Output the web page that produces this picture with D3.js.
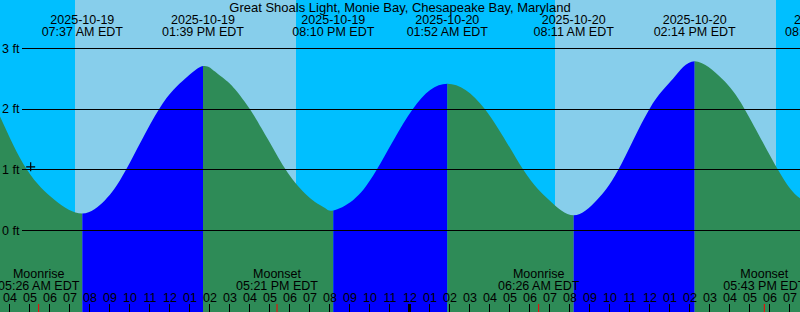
<!DOCTYPE html>
<html>
<head>
<meta charset="utf-8">
<script src="https://cdn.jsdelivr.net/npm/d3@7"></script>
<style>
  body { margin: 0; background: #00BFFF; }
  svg { display: block; }
  text { font-family: "Liberation Sans", Arial, sans-serif; font-size: 12.5px; fill: #000; }
  text.title { font-size: 13px; }
</style>
</head>
<body>
<div id="main"></div>
<script>
const ctx = {
    CHART_WIDTH: 800,
    CHART_HEIGHT: 312
};

const title = "Great Shoals Light, Monie Bay, Chesapeake Bay, Maryland";

// high / low tide events
const extremeTimes = ["2025-10-19 07:37", "2025-10-19 13:39", "2025-10-19 20:10",
                      "2025-10-20 01:52", "2025-10-20 08:11", "2025-10-20 14:14",
                      "2025-10-20 20:48"];
const extremeLevels = [0.28, 2.71, 0.33, 2.42, 0.25, 2.79, 0.30];
const extremeTypes = ["low", "high", "low", "high", "low", "high", "low"];

// tide level readings (ft) taken off the curve
const tideTimes = ["2025-10-19 03:30", "2025-10-19 04:51", "2025-10-19 06:15", "2025-10-19 07:37",
                   "2025-10-19 08:45", "2025-10-19 09:48", "2025-10-19 11:27", "2025-10-19 12:45",
                   "2025-10-19 13:39", "2025-10-19 14:15", "2025-10-19 14:45", "2025-10-19 15:15",
                   "2025-10-19 16:00", "2025-10-19 16:35", "2025-10-19 17:15", "2025-10-19 17:45",
                   "2025-10-19 18:15", "2025-10-19 18:45", "2025-10-19 19:15", "2025-10-19 19:45",
                   "2025-10-19 20:10",
                   "2025-10-19 21:09", "2025-10-19 22:20", "2025-10-20 00:08", "2025-10-20 01:52",
                   "2025-10-20 03:45", "2025-10-20 05:40", "2025-10-20 06:58", "2025-10-20 08:11",
                   "2025-10-20 09:20", "2025-10-20 10:25", "2025-10-20 11:58", "2025-10-20 13:09",
                   "2025-10-20 14:14", "2025-10-20 15:36", "2025-10-20 16:44", "2025-10-20 18:24",
                   "2025-10-20 19:30", "2025-10-20 20:48"];
const tideLevels = [1.88, 1.0, 0.5, 0.28,
                    0.5, 1.0, 2.0, 2.5,
                    2.71, 2.62, 2.49, 2.33,
                    2.0, 1.68, 1.30, 1.02,
                    0.79, 0.61, 0.47, 0.37,
                    0.33,
                    0.5, 1.0, 2.0, 2.42,
                    2.0, 1.0, 0.5, 0.25,
                    0.5, 1.0, 2.0, 2.5,
                    2.79, 2.5, 2.0, 1.0,
                    0.53, 0.30];

// daylight
const sunriseTimes = ["2025-10-19 07:15", "2025-10-20 07:15"];
const sunsetTimes = ["2025-10-19 18:18", "2025-10-20 18:18"];

// moon events
const moonTimes = ["2025-10-19 05:26", "2025-10-19 17:21", "2025-10-20 06:26", "2025-10-20 17:43"];
const moonTypes = ["Moonrise", "Moonset", "Moonrise", "Moonset"];

const levelTicks = [0, 1, 2, 3];
const hourRange = ["2025-10-19 04:00", "2025-10-20 19:00"];

const nowTime = "2025-10-19 05:02";
const nowLevel = 1.05;

const parse = d3.utcParse("%Y-%m-%d %H:%M");
const fmtDate = d3.utcFormat("%Y-%m-%d");
const fmtTime = d3.utcFormat("%I:%M %p EDT");
const fmtHour = d3.utcFormat("%I");

function createViz(){
    let svgEl = d3.select("#main").append("svg")
        .attr("width", ctx.CHART_WIDTH)
        .attr("height", ctx.CHART_HEIGHT);
    let g = svgEl.append("g").attr("id", "mainG");

    ctx.xScale = d3.scaleUtc().domain(hourRange.map(parse)).range([10, 790]);
    ctx.yScale = d3.scaleLinear().domain([0, 3]).range([230.5, 48.5]);
    let x = ctx.xScale, y = ctx.yScale;

    // night background then daylight bands
    g.append("rect").attr("x", 0).attr("y", 0)
     .attr("width", ctx.CHART_WIDTH).attr("height", ctx.CHART_HEIGHT)
     .attr("fill", "#00BFFF");
    g.selectAll("rect.day").data(d3.zip(sunriseTimes, sunsetTimes)).join("rect")
     .attr("class", "day")
     .attr("x", d => x(parse(d[0])))
     .attr("y", 0)
     .attr("width", d => x(parse(d[1])) - x(parse(d[0])))
     .attr("height", ctx.CHART_HEIGHT)
     .attr("fill", "#87CEEB");

    // tide area as clip, coloured by rising / falling
    let tide = tideTimes.map((t, i) => ({t: parse(t), v: tideLevels[i]}));
    let area = d3.area()
        .x(d => x(d.t))
        .y0(ctx.CHART_HEIGHT)
        .y1(d => y(d.v))
        .curve(d3.curveNatural);
    svgEl.append("defs").append("clipPath").attr("id", "tideClip")
        .append("path").attr("d", area(tide));

    let ext = extremeTimes.map((t, i) => ({t: parse(t), v: extremeLevels[i], type: extremeTypes[i]}));
    let segs = ext.map((e, i) => ({
        x0: i === 0 ? -10 : x(ext[i-1].t),
        x1: x(e.t),
        rising: e.type === "high"
    }));
    segs.push({x0: x(ext[ext.length-1].t), x1: ctx.CHART_WIDTH + 100,
               rising: ext[ext.length-1].type === "low"});

    g.append("g").attr("clip-path", "url(#tideClip)")
     .selectAll("rect").data(segs).join("rect")
     .attr("x", d => d.x0)
     .attr("y", 0)
     .attr("width", d => d.x1 - d.x0)
     .attr("height", ctx.CHART_HEIGHT)
     .attr("fill", d => d.rising ? "#0000FF" : "#2E8B57");

    // level lines
    g.selectAll("line.level").data(levelTicks).join("line")
     .attr("class", "level")
     .attr("x1", 22).attr("x2", ctx.CHART_WIDTH)
     .attr("y1", d => y(d)).attr("y2", d => y(d))
     .attr("stroke", "#000").attr("stroke-width", 1)
     .style("shape-rendering", "crispEdges");
    g.selectAll("text.level").data(levelTicks).join("text")
     .attr("class", "level")
     .attr("x", 2).attr("y", d => y(d) + 4)
     .text(d => d + " ft");

    // title + tide event labels
    g.append("text")
     .attr("class", "title")
     .attr("x", ctx.CHART_WIDTH / 2).attr("y", 12)
     .style("text-anchor", "middle")
     .text(title);
    let evG = g.selectAll("g.ev").data(ext).join("g").attr("class", "ev");
    evG.append("text").attr("x", d => x(d.t)).attr("y", 23.5)
       .style("text-anchor", "middle").text(d => fmtDate(d.t));
    evG.append("text").attr("x", d => x(d.t)).attr("y", 36)
       .style("text-anchor", "middle").text(d => fmtTime(d.t));

    // moon labels
    let moon = moonTimes.map((t, i) => ({t: parse(t), name: moonTypes[i]}));
    let mG = g.selectAll("g.moon").data(moon).join("g").attr("class", "moon");
    mG.append("text").attr("x", d => x(d.t)).attr("y", 278)
      .style("text-anchor", "middle").text(d => d.name);
    mG.append("text").attr("x", d => x(d.t)).attr("y", 289.5)
      .style("text-anchor", "middle").text(d => fmtTime(d.t));

    // hour axis
    let hours = d3.utcHour.range(parse(hourRange[0]), d3.utcHour.offset(parse(hourRange[1]), 1));
    g.selectAll("text.hour").data(hours).join("text")
     .attr("class", "hour")
     .attr("x", d => x(d)).attr("y", 302)
     .style("text-anchor", "middle")
     .text(d => fmtHour(d));
    g.selectAll("line.hour").data(hours).join("line")
     .attr("class", "hour")
     .attr("x1", d => x(d) - 0.5).attr("x2", d => x(d) - 0.5)
     .attr("y1", 304).attr("y2", ctx.CHART_HEIGHT)
     .attr("stroke", "#000")
     .attr("stroke-width", d => d.getUTCHours() === 0 ? 3 : 1);
    g.selectAll("line.moon").data(moon).join("line")
     .attr("class", "moon")
     .attr("x1", d => x(d.t)).attr("x2", d => x(d.t))
     .attr("y1", 304).attr("y2", ctx.CHART_HEIGHT)
     .attr("stroke", "#FF0000").attr("stroke-width", 1);

    // current time mark
    let nx = x(parse(nowTime)), ny = y(nowLevel);
    g.append("path")
     .attr("d", `M${nx-4.5},${ny}H${nx+4.5}M${nx},${ny-4.5}V${ny+4.5}`)
     .attr("stroke", "#000").attr("stroke-width", 1.2)
     .attr("fill", "none");
}

createViz();
</script>
</body>
</html>
